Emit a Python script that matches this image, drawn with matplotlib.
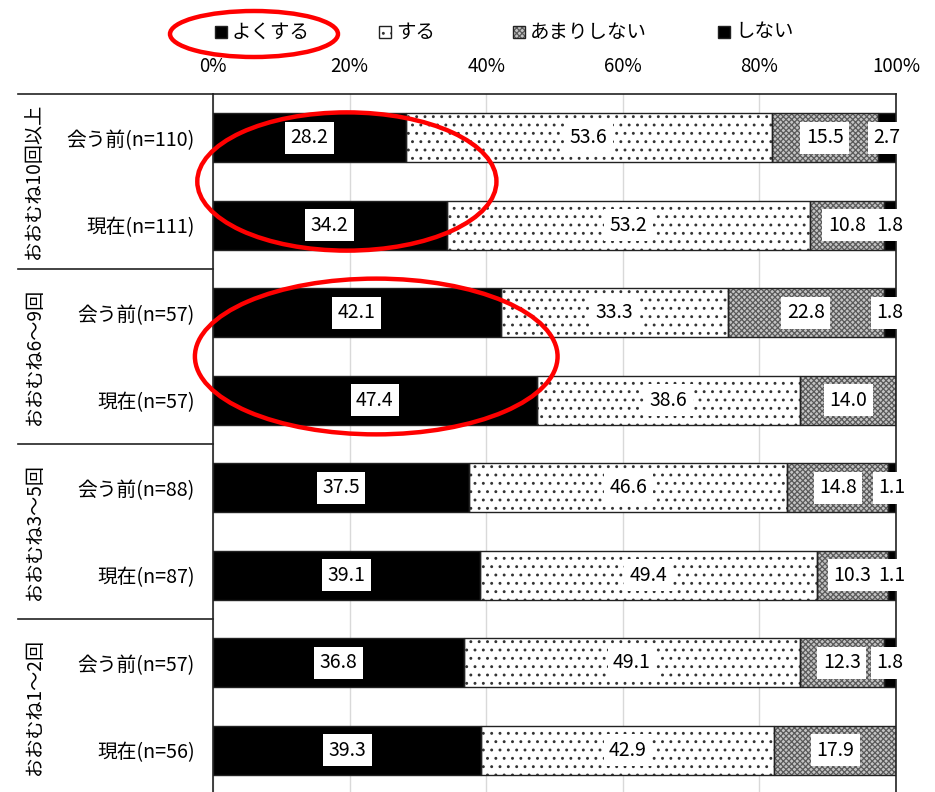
import matplotlib
matplotlib.use('Agg')
import matplotlib.pyplot as plt
import matplotlib.patches as mpatches
import matplotlib.transforms as mtransforms
import numpy as np

plt.rcParams['font.family'] = ['Noto Sans CJK JP', 'DejaVu Sans']
plt.rcParams['hatch.linewidth'] = 0.9

# data (rows top to bottom)
groups = ['おおむね10回以上', 'おおむね6～9回', 'おおむね3～5回', 'おおむね1～2回']
row_labels = ['会う前(n=110)', '現在(n=111)',
              '会う前(n=57)', '現在(n=57)',
              '会う前(n=88)', '現在(n=87)',
              '会う前(n=57)', '現在(n=56)']
yoku_suru = [28.2, 34.2, 42.1, 47.4, 37.5, 39.1, 36.8, 39.3]
suru = [53.6, 53.2, 33.3, 38.6, 46.6, 49.4, 49.1, 42.9]
amari = [15.5, 10.8, 22.8, 14.0, 14.8, 10.3, 12.3, 17.9]
shinai = [2.7, 1.8, 1.8, 0.0, 1.1, 1.1, 1.8, 0.0]
legend_labels = ['よくする', 'する', 'あまりしない', 'しない']

W, H = 935, 792
fig = plt.figure(figsize=(W / 100, H / 100), dpi=100)
fig.patch.set_facecolor('white')

# axes placed in pixel terms (top spine at y=94, 100% at x=896)
ax_left, ax_right, ax_top, row_h = 213, 896, 94, 87.5
n = len(row_labels)
ax_h = row_h * n
ax = fig.add_axes([ax_left / W, (H - ax_top - ax_h) / H, (ax_right - ax_left) / W, ax_h / H])

y = np.arange(n)
bh = 0.555
series = [yoku_suru, suru, amari, shinai]
styles = [
    dict(face='black', hatch=None, hcol='black'),
    dict(face='white', hatch='..', hcol='#333333'),
    dict(face='#c4c4c4', hatch='xxxxxx', hcol='#5a5a5a'),
    dict(face='black', hatch=None, hcol='black'),
]

left = np.zeros(n)
for vals, st in zip(series, styles):
    vals = np.array(vals)
    # fill + hatch layer
    ax.barh(y, vals, left=left, height=bh, color=st['face'], edgecolor=st['hcol'],
            hatch=st['hatch'], linewidth=0, zorder=2)
    # outline layer
    ax.barh(y, vals, left=left, height=bh, fill=False, edgecolor='#222222',
            linewidth=1.0, zorder=3)
    for i, v in enumerate(vals):
        if v > 0:
            ax.text(left[i] + v / 2, y[i], f'{v:.1f}', ha='center', va='center',
                    fontsize=14, color='black', zorder=5,
                    bbox=dict(boxstyle='square,pad=0.28', facecolor='white',
                              edgecolor='none'))
    left += vals

ax.set_xlim(0, 100)
ax.set_ylim(n - 0.5, -0.5)
ax.set_xticks(np.arange(0, 101, 20))
ax.set_xticklabels([f'{t}%' for t in range(0, 101, 20)], fontsize=13.5)
ax.xaxis.tick_top()
ax.tick_params(axis='x', length=0, pad=12)
ax.set_yticks(y)
ax.set_yticklabels(row_labels, fontsize=14.2)
ax.tick_params(axis='y', length=0, pad=13)
ax.grid(axis='x', color='#d9d9d9', linewidth=1, zorder=0)
ax.set_axisbelow(True)
for side in ['left', 'right', 'top', 'bottom']:
    ax.spines[side].set_color('#222222')
    ax.spines[side].set_linewidth(1.2)

# group labels and separators in the left margin
trans = mtransforms.blended_transform_factory(ax.transAxes, ax.transData)
x_sep = (18 - ax_left) / (ax_right - ax_left)
x_grp = (34 - ax_left) / (ax_right - ax_left)
for g, name in enumerate(groups):
    top = 2 * g - 0.5
    ax.plot([x_sep, 0], [top, top], color='#222222', lw=1.2, transform=trans,
            clip_on=False)
    ax.text(x_grp, 2 * g + 0.5, name, rotation=90, ha='center', va='center',
            fontsize=13.8, transform=trans)

# legend drawn manually at the top
leg_x = [215, 379, 513, 718]
leg_y = 32
sq = 12
for lx, lab, st in zip(leg_x, legend_labels, styles):
    rect = mpatches.Rectangle((lx / W, 1 - (leg_y + sq / 2) / H), sq / W, sq / H,
                              transform=fig.transFigure, facecolor=st['face'],
                              edgecolor=st['hcol'], hatch=st['hatch'], linewidth=0)
    fig.add_artist(rect)
    fig.add_artist(mpatches.Rectangle((lx / W, 1 - (leg_y + sq / 2) / H), sq / W, sq / H,
                                      transform=fig.transFigure, fill=False,
                                      edgecolor='#222222', linewidth=1))
    fig.text((lx + sq + 5) / W, 1 - leg_y / H, lab, ha='left', va='center', fontsize=14)

# red highlight ellipses
red = '#ff0000'
fig.add_artist(mpatches.Ellipse((254 / W, 1 - 34 / H), 168 / W, 46 / H,
                                transform=fig.transFigure, fill=False,
                                edgecolor=red, linewidth=3.2))
ax.add_patch(mpatches.Ellipse((19.6, 0.5), 43.8, 1.58, fill=False, edgecolor=red,
                              linewidth=3.2, clip_on=False, zorder=10))
ax.add_patch(mpatches.Ellipse((23.9, 2.5), 53.1, 1.78, fill=False, edgecolor=red,
                              linewidth=3.2, clip_on=False, zorder=10))

fig.savefig('out.png', dpi=100, facecolor='white')
